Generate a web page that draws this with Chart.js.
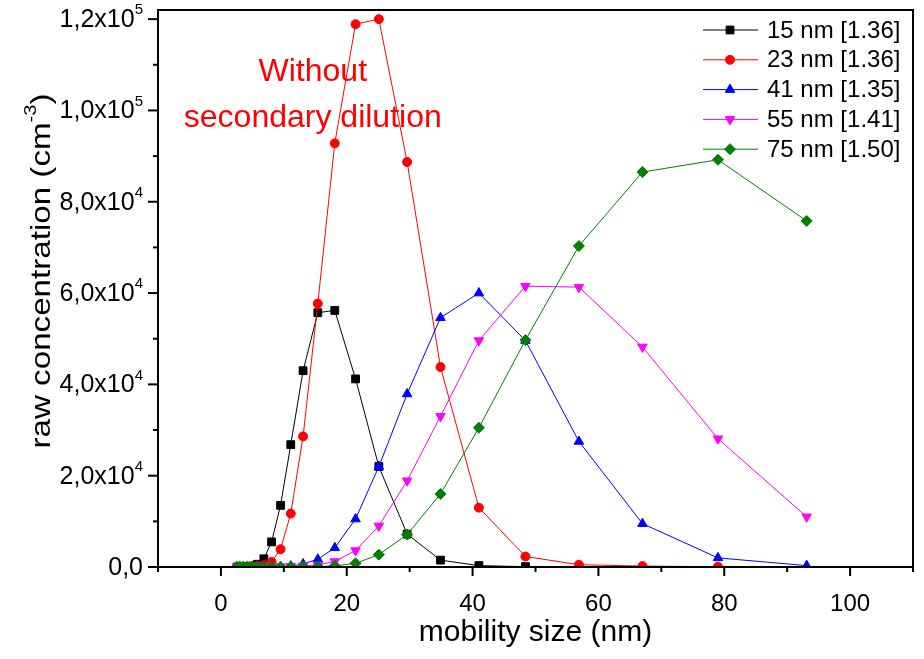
<!DOCTYPE html>
<html>
<head>
<meta charset="utf-8">
<script src="https://cdn.jsdelivr.net/npm/chart.js@4.4.0/dist/chart.umd.min.js"></script>
<style>
    html, body { margin: 0; padding: 0; background: #fff; }
</style>
</head>
<body>
<canvas id="myChart" width="924" height="659"></canvas>
<script>
// mobility sizes (nm) of the SMPS channels
const sizes = [2.56, 3.01, 3.55, 4.18, 4.92, 5.80, 6.83, 8.05, 9.48, 11.1, 13.06, 15.4, 18.1, 21.4, 25.1, 29.6, 34.9, 41.0, 48.4, 56.9, 67.0, 79.0, 93.1];

// raw concentrations (cm-3), one array per selected size
const conc15 = [0, 0, 50, 100, 200, 600, 1800, 5500, 13500, 26800, 43000, 55700, 56200, 41200, 22000, 7200, 1500, 300, 80];
const conc23 = [0, 0, 0, 50, 100, 200, 400, 1100, 3900, 11700, 28600, 57700, 92800, 118900, 120000, 88700, 43800, 13000, 2300, 500, 200, 80];
const conc41 = [0, 0, 0, 0, 0, 0, 50, 50, 100, 200, 650, 1700, 4200, 10500, 22000, 37900, 54600, 60000, 49600, 27500, 9500, 2000, 300];
const conc55 = [0, 0, 0, 0, 0, 0, 0, 50, 100, 150, 250, 450, 1200, 3600, 9000, 18900, 33000, 49600, 61500, 61300, 48200, 28100, 11000];
const conc75 = [0, 0, 0, 0, 0, 0, 0, 0, 0, 30, 50, 100, 250, 800, 2700, 7100, 16000, 30500, 49700, 70300, 86500, 89200, 75800];

const seriesNames = ['15 nm [1.36]', '23 nm [1.36]', '41 nm [1.35]', '55 nm [1.41]', '75 nm [1.50]'];

const xTicks = [0, 20, 40, 60, 80, 100];
const yTicks = [0, 20000, 40000, 60000, 80000, 100000, 120000];
const yTickBase = ['0,0', '2,0x10', '4,0x10', '6,0x10', '8,0x10', '1,0x10', '1,2x10'];
const yTickExp = ['', '4', '4', '4', '4', '5', '5'];

const yTitle = ['raw concentration (cm', '-3', ')'];
const noteLines = ['Without', 'secondary dilution'];
const noteAt = { x: 14.6, y: [106400, 96300] };

const FONT = '"Liberation Sans", Arial, sans-serif';

function series(values) {
    return values.map((v, i) => ({ x: sizes[i], y: v }));
}

const styles = [
    { color: '#000000', pointStyle: 'rect', radius: 5.5, rotation: 0 },
    { color: '#ff0000', pointStyle: 'circle', radius: 4.5, rotation: 0 },
    { color: '#0000ff', pointStyle: 'triangle', radius: 5.5, rotation: 0 },
    { color: '#ff00ff', pointStyle: 'triangle', radius: 5.5, rotation: 180 },
    { color: '#008000', pointStyle: 'rectRot', radius: 5.5, rotation: 0 },
];

const allData = [conc15, conc23, conc41, conc55, conc75];

function drawMarker(ctx, st, x, y) {
    ctx.save();
    ctx.fillStyle = st.color;
    ctx.strokeStyle = st.color;
    ctx.lineWidth = 1;
    if (Chart.helpers && Chart.helpers.drawPoint) {
        Chart.helpers.drawPoint(ctx, { pointStyle: st.pointStyle, radius: st.radius, rotation: st.rotation, borderWidth: 1 }, x, y);
    } else {
        ctx.beginPath();
        ctx.arc(x, y, st.radius, 0, Math.PI * 2);
        ctx.fill();
    }
    ctx.restore();
}

// frame, ticks, tick labels, y title, legend and note
const decorations = {
    id: 'decorations',
    afterDraw(chart) {
        const { ctx, chartArea } = chart;
        const xs = chart.scales.x;
        const ys = chart.scales.y;
        ctx.save();
        ctx.strokeStyle = '#000';
        ctx.lineWidth = 2;
        ctx.strokeRect(chartArea.left, chartArea.top, chartArea.right - chartArea.left, chartArea.bottom - chartArea.top);

        // x ticks
        for (let v = -10; v <= 110; v += 10) {
            const px = xs.getPixelForValue(v);
            const len = v % 20 === 0 ? 9 : 5;
            ctx.beginPath();
            ctx.moveTo(px, chartArea.bottom);
            ctx.lineTo(px, chartArea.bottom + len);
            ctx.stroke();
        }
        // y ticks
        for (let v = 0; v <= 120000; v += 10000) {
            const py = ys.getPixelForValue(v);
            const len = v % 20000 === 0 ? 10 : 5;
            ctx.beginPath();
            ctx.moveTo(chartArea.left, py);
            ctx.lineTo(chartArea.left - len, py);
            ctx.stroke();
        }

        // y tick labels with superscript exponent
        ctx.fillStyle = '#000';
        ctx.textBaseline = 'middle';
        ctx.textAlign = 'right';
        yTicks.forEach((v, i) => {
            const py = ys.getPixelForValue(v);
            const right = chartArea.left - 15;
            ctx.font = '15px ' + FONT;
            const ew = yTickExp[i] ? ctx.measureText(yTickExp[i]).width : 0;
            if (yTickExp[i]) ctx.fillText(yTickExp[i], right, py - 9);
            ctx.font = '25px ' + FONT;
            ctx.fillText(yTickBase[i], right - ew, py + 1);
        });

        // y title, stretched along its length like the original
        ctx.save();
        ctx.translate(42, 271);
        ctx.rotate(-Math.PI / 2);
        ctx.font = '28px ' + FONT;
        const w0 = ctx.measureText(yTitle[0]).width;
        const w2 = ctx.measureText(yTitle[2]).width;
        ctx.font = '17px ' + FONT;
        const w1 = ctx.measureText(yTitle[1]).width;
        const total = w0 + w1 + w2;
        ctx.scale(355 / total, 1);
        ctx.textAlign = 'left';
        ctx.font = '28px ' + FONT;
        ctx.fillText(yTitle[0], -total / 2, 0);
        ctx.fillText(yTitle[2], -total / 2 + w0 + w1, 0);
        ctx.font = '17px ' + FONT;
        ctx.fillText(yTitle[1], -total / 2 + w0, -11);
        ctx.restore();

        // legend
        ctx.font = '24px ' + FONT;
        ctx.textAlign = 'left';
        const rowY = chartArea.top + 20;
        chart.data.datasets.forEach((ds, i) => {
            const y = rowY + i * 29.8;
            const st = styles[i];
            ctx.strokeStyle = st.color;
            ctx.lineWidth = 1;
            ctx.beginPath();
            ctx.moveTo(703, y);
            ctx.lineTo(758, y);
            ctx.stroke();
            drawMarker(ctx, st, 730, y);
            ctx.fillStyle = '#000';
            ctx.fillText(ds.label, 767, y + 1);
        });

        // note
        ctx.fillStyle = '#ff0000';
        ctx.font = '32px ' + FONT;
        ctx.textAlign = 'center';
        ctx.textBaseline = 'alphabetic';
        noteLines.forEach((t, i) => {
            ctx.fillText(t, xs.getPixelForValue(noteAt.x), ys.getPixelForValue(noteAt.y[i]));
        });
        ctx.restore();
    }
};

const ctx = document.getElementById('myChart').getContext('2d');
const myChart = new Chart(ctx, {
    type: 'line',
    data: {
        datasets: allData.map((vals, i) => ({
            label: seriesNames[i],
            data: series(vals),
            borderColor: styles[i].color,
            backgroundColor: styles[i].color,
            borderWidth: 1,
            pointStyle: styles[i].pointStyle,
            pointRotation: styles[i].rotation,
            pointRadius: styles[i].radius,
            pointBorderWidth: 1,
            pointBorderColor: styles[i].color,
            pointBackgroundColor: styles[i].color,
            tension: 0,
            fill: false,
            clip: 0,
            order: 4 - i,
        })),
    },
    options: {
        responsive: false,
        animation: false,
        events: [],
        layout: { padding: { top: 10, right: 11, left: 0, bottom: 0 } },
        plugins: {
            legend: { display: false },
            tooltip: { enabled: false },
        },
        scales: {
            x: {
                type: 'linear',
                min: -10,
                max: 110,
                afterBuildTicks: axis => { axis.ticks = xTicks.map(v => ({ value: v })); },
                afterFit: axis => { axis.height = 92; },
                grid: { display: false },
                border: { display: false },
                ticks: {
                    color: '#000',
                    padding: 15,
                    maxRotation: 0,
                    font: { family: FONT, size: 24 },
                },
                title: {
                    display: true,
                    text: 'mobility size (nm)',
                    color: '#000',
                    font: { family: FONT, size: 30 },
                    padding: { top: 0, bottom: 8 },
                },
            },
            y: {
                type: 'linear',
                min: 0,
                max: 122000,
                afterBuildTicks: axis => { axis.ticks = yTicks.map(v => ({ value: v })); },
                afterFit: axis => { axis.width = 158; },
                grid: { display: false },
                border: { display: false },
                ticks: { display: false },
                title: { display: false },
            },
        },
    },
    plugins: [decorations],
});
</script>
</body>
</html>
